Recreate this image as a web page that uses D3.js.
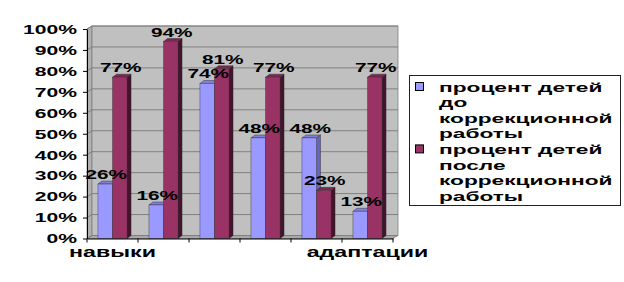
<!DOCTYPE html>
<html><head><meta charset="utf-8">
<script src="https://cdn.jsdelivr.net/npm/d3@7"></script>
<style>
html,body{margin:0;padding:0;background:#fff;}
svg{display:block;}
text{font-family:"Liberation Sans",Arial,sans-serif;font-weight:bold;fill:#000;}
</style></head>
<body>
<svg id="c" width="624" height="282"></svg>
<script>
// ---- data ----
const categories = ["навыки", "", "", "", "", "адаптации"];
const seriesNames = ["процент детей до коррекционной работы", "процент детей после коррекционной работы"];
const legendLines = [["процент детей", "до", "коррекционной", "работы"], ["процент детей", "после", "коррекционной", "работы"]];
const before = [26, 16, 74, 48, 48, 13];
const after = [77, 94, 81, 77, 23, 77];
const yTicks = [0, 10, 20, 30, 40, 50, 60, 70, 80, 90, 100];

const colors = [
  {front: "#9999FF", top: "#7F7FD9", side: "#6666B8"},
  {front: "#993366", top: "#7A2952", side: "#44142C"}
];

(function () {
const svg = d3.select("#c");
const pLeft = 87, pRight = 393, pBottom = 238.5, pTop = 29;
const DX = 5, DY = 3;     // wall depth
const BDX = 4, BDY = 3;   // bar depth

const y = d3.scaleLinear().domain([0, 100]).range([pBottom, pTop]);
const idx = categories.map((d, i) => i);
const x0 = d3.scaleBand().domain(idx).range([pLeft, pRight]).paddingInner(0.43).paddingOuter(0.215);
const x1 = d3.scaleBand().domain([0, 1]).range([0, x0.bandwidth()]);

const wallCol = "#C0C0C0", gridCol = "#808080";

// side wall
svg.append("polygon")
  .attr("points", [[pLeft, y(100)], [pLeft + DX, y(100) - DY], [pLeft + DX, pBottom - DY], [pLeft, pBottom]].join(" "))
  .attr("fill", "#B0B0B0").attr("stroke", gridCol).attr("stroke-width", 0.8);
// floor
svg.append("polygon")
  .attr("points", [[pLeft, pBottom], [pRight, pBottom], [pRight + DX, pBottom - DY], [pLeft + DX, pBottom - DY]].join(" "))
  .attr("fill", "#A8A8A8").attr("stroke", gridCol).attr("stroke-width", 0.8);
// back wall
svg.append("rect")
  .attr("x", pLeft + DX).attr("y", y(100) - DY)
  .attr("width", pRight - pLeft).attr("height", pBottom - y(100))
  .attr("fill", wallCol).attr("stroke", gridCol).attr("stroke-width", 0.8);
// gridlines
svg.append("g").selectAll("polyline").data(yTicks).join("polyline")
  .attr("points", d => [[pLeft, y(d)], [pLeft + DX, y(d) - DY], [pRight + DX, y(d) - DY]].join(" "))
  .attr("fill", "none").attr("stroke", gridCol).attr("stroke-width", 1);

// bars
const barData = [];
categories.forEach((c, i) => {
  [before[i], after[i]].forEach((v, s) => barData.push({i, s, v}));
});
const bars = svg.append("g");
barData.forEach(d => {
  const bx = x0(d.i) + x1(d.s), bw = x1.bandwidth(), ty = y(d.v), col = colors[d.s];
  const g = bars.append("g");
  g.append("polygon")
    .attr("points", [[bx + bw, ty], [bx + bw + BDX, ty - BDY], [bx + bw + BDX, pBottom - BDY], [bx + bw, pBottom]].join(" "))
    .attr("fill", col.side).attr("stroke", "#222").attr("stroke-width", 0.4);
  g.append("polygon")
    .attr("points", [[bx, ty], [bx + BDX, ty - BDY], [bx + bw + BDX, ty - BDY], [bx + bw, ty]].join(" "))
    .attr("fill", col.top).attr("stroke", "#222").attr("stroke-width", 0.4);
  g.append("rect").attr("x", bx).attr("y", ty).attr("width", bw).attr("height", pBottom - ty)
    .attr("fill", col.front).attr("stroke", "#333").attr("stroke-width", 0.4);
});

// data labels
const LSX = 1.6;
svg.append("g").selectAll("text").data(barData).join("text")
  .attr("transform", d => `translate(${x0(d.i) + x1(d.s) + x1.bandwidth() / 2 + 1},${y(d.v) - 5}) scale(${LSX},1)`)
  .attr("text-anchor", "middle").attr("font-size", 13)
  .text(d => d.v + "%");

// y axis
const TSX = 1.76;
const yAxis = svg.append("g").attr("transform", `translate(${pLeft},0)`)
  .call(d3.axisLeft(y).tickValues(yTicks).tickFormat(d => d + "%").tickSize(4).tickSizeOuter(0));
yAxis.attr("font-family", null).attr("font-size", null);
yAxis.select(".domain").attr("stroke", "#000");
yAxis.selectAll(".tick line").attr("stroke", "#000");
yAxis.selectAll(".tick text")
  .attr("font-size", 12)
  .attr("x", -10 / TSX).attr("dy", "0.36em")
  .attr("transform", `scale(${TSX},1)`);

// x axis
const xAxis = svg.append("g").attr("transform", `translate(0,${pBottom})`)
  .call(d3.axisBottom(x0).tickSize(0).tickFormat(i => categories[i]));
xAxis.attr("font-family", null).attr("font-size", null);
xAxis.select(".domain").attr("stroke", "#000");
xAxis.selectAll(".tick line").remove();
// boundary tick marks
xAxis.append("g").selectAll("line").data(d3.range(categories.length + 1)).join("line")
  .attr("x1", k => pLeft + k * x0.step()).attr("x2", k => pLeft + k * x0.step())
  .attr("y1", 0).attr("y2", 4).attr("stroke", "#000");
const CSX = 1.66;
xAxis.selectAll(".tick text")
  .attr("font-size", 14)
  .attr("y", 19).attr("dy", 0)
  .attr("transform", `scale(${CSX},1)`)
  .attr("x", 0);

// legend
const lg = svg.append("g");
lg.append("rect").attr("x", 409.5).attr("y", 75.5).attr("width", 211).attr("height", 130)
  .attr("fill", "#fff").attr("stroke", "#222").attr("stroke-width", 1);
const GSX = 1.68, lineH = 15.6, firstBase = 91.5;
legendLines.forEach((lines, s) => {
  const base = firstBase + s * 4 * lineH;
  lg.append("rect").attr("x", 415.5).attr("y", base - 9).attr("width", 8).attr("height", 8)
    .attr("fill", colors[s].front).attr("stroke", "#000").attr("stroke-width", 1);
  lines.forEach((t, k) => {
    lg.append("text")
      .attr("transform", `translate(439,${base + k * lineH}) scale(${GSX},1)`)
      .attr("font-size", 13.5).text(t);
  });
});
})();
</script>
</body></html>
